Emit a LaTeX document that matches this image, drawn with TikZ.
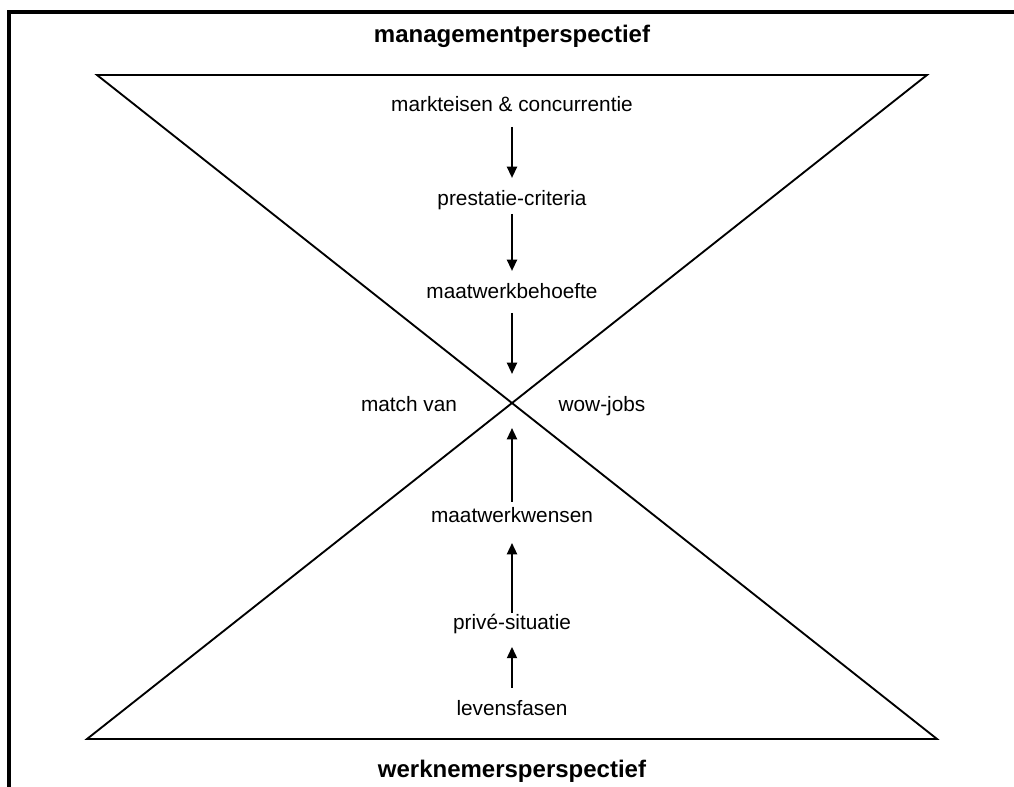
\documentclass[tikz,border=0pt]{standalone}
\usepackage{fontspec}
\setmainfont{Liberation Sans}
\usetikzlibrary{arrows.meta}
\begin{document}
\begin{tikzpicture}[x=0.75pt,y=-0.75pt,
  frame/.style={line width=2.3pt},
  tri/.style={line width=1.4pt,line join=miter},
  lbl/.style={inner sep=0pt,outer sep=0pt,text height=12pt,text depth=3.5pt,font=\fontsize{15.6}{18}\selectfont},
  ttl/.style={inner sep=0pt,outer sep=0pt,font=\fontsize{18}{21}\selectfont\bfseries},
  arr/.style={line width=1.6pt,-{Triangle[length=8.5pt,width=7.5pt]}}]
\useasboundingbox (0,0) rectangle (1014,787);
% frame
\coordinate (ftl) at (9,12);
\coordinate (ftr) at (1014,12);
\coordinate (fbl) at (9,787);
\draw[frame] (fbl) -- (ftl) -- (ftr);
% hourglass
\coordinate (tl) at (97,75);
\coordinate (tr) at (927,75);
\coordinate (bl) at (87,739);
\coordinate (br) at (937,739);
\coordinate (X) at (512,403);
\draw[tri] (tl) -- (tr) -- (bl) -- (br) -- cycle;
% titles
\node[ttl] (top) at (512,36) {managementperspectief};
\node[ttl] (bot) at (512,771) {werknemersperspectief};
% labels
\node[lbl] (m1) at (512,106.3) {markteisen \& concurrentie};
\node[lbl] (m2) at (512,200.3) {prestatie-criteria};
\node[lbl] (m3) at (512,293.3) {maatwerkbehoefte};
\node[lbl] (lv) at (409,406.3) {match van};
\node[lbl] (rv) at (602,406.3) {wow-jobs};
\node[lbl] (w1) at (512,517.3) {maatwerkwensen};
\node[lbl] (w2) at (512,624.3) {privé-situatie};
\node[lbl] (w3) at (512,710.3) {levensfasen};
% arrows
\draw[arr,shorten <=7.7pt,shorten >=9pt] (m1.south) -- (m2.north);
\draw[arr,shorten <=2.5pt,shorten >=9pt] (m2.south) -- (m3.north);
\draw[arr,shorten <=7pt,shorten >=21.75pt] (m3.south) -- (X);
\draw[arr,shorten <=3.75pt,shorten >=18.75pt] (w1.north) -- (X);
\draw[arr,shorten <=0.75pt,shorten >=11.5pt] (w2.north) -- (w1.south);
\draw[arr,shorten <=9pt,shorten >=9.2pt] (w3.north) -- (w2.south);
\end{tikzpicture}
\end{document}
